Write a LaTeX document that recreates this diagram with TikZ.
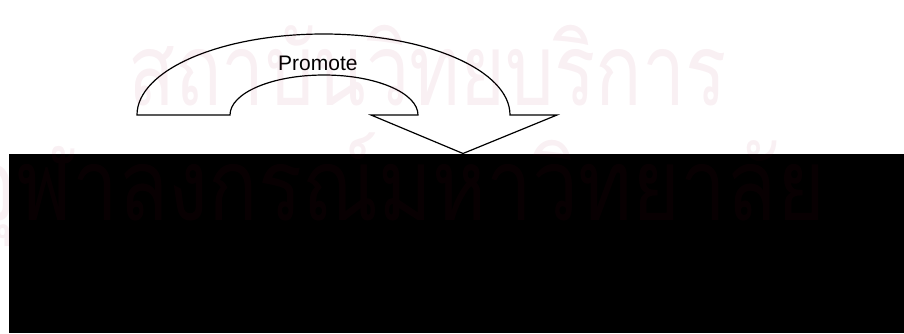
\documentclass[tikz,border=0pt]{standalone}
\usepackage{fontspec}
\setmainfont{Liberation Sans}
\newfontfamily\thaifont[Script=Thai]{Loma}
\usepackage{tikz}
\usetikzlibrary{positioning}

\definecolor{wmpink}{RGB}{150,0,50}

\begin{document}
\begin{tikzpicture}
                    [x=1pt, y=-1pt]
                    \tikzset{outline/.style = {draw, line width=1.2pt, line join=miter},
                             wmark/.style = {text=wmpink, text opacity=0.06, inner sep=0pt,
                                             anchor=base west, font=\thaifont\fontsize{100}{100}\selectfont}}
                    \useasboundingbox (0,0) rectangle (904,333);

                    % promote arrow
                    \draw[outline] (137,115) arc[start angle=180, end angle=0, x radius=186.5pt, y radius=81pt]
                        -- (557,115) -- (463,153.5) -- (371,115) -- (418,115)
                        arc[start angle=0, end angle=180, x radius=94pt, y radius=40pt] -- cycle;
                    \node[font=\fontsize{21}{21}\selectfont, anchor=base west, inner sep=0pt] (promote) at (278,70) {Promote};

                    % black block
                    \fill[black] (9,154) rectangle (904,333);

                    % watermark
                    \node[wmark] (wmtop) at (128,105) {\scalebox{0.77}[1]{สถาบันวิทยบริการ}};
                    \node[wmark] (wmbottom) at (-32,220) {\scalebox{0.82}[1]{จุฬาลงกรณ์มหาวิทยาลัย}};
                \end{tikzpicture}
\end{document}
